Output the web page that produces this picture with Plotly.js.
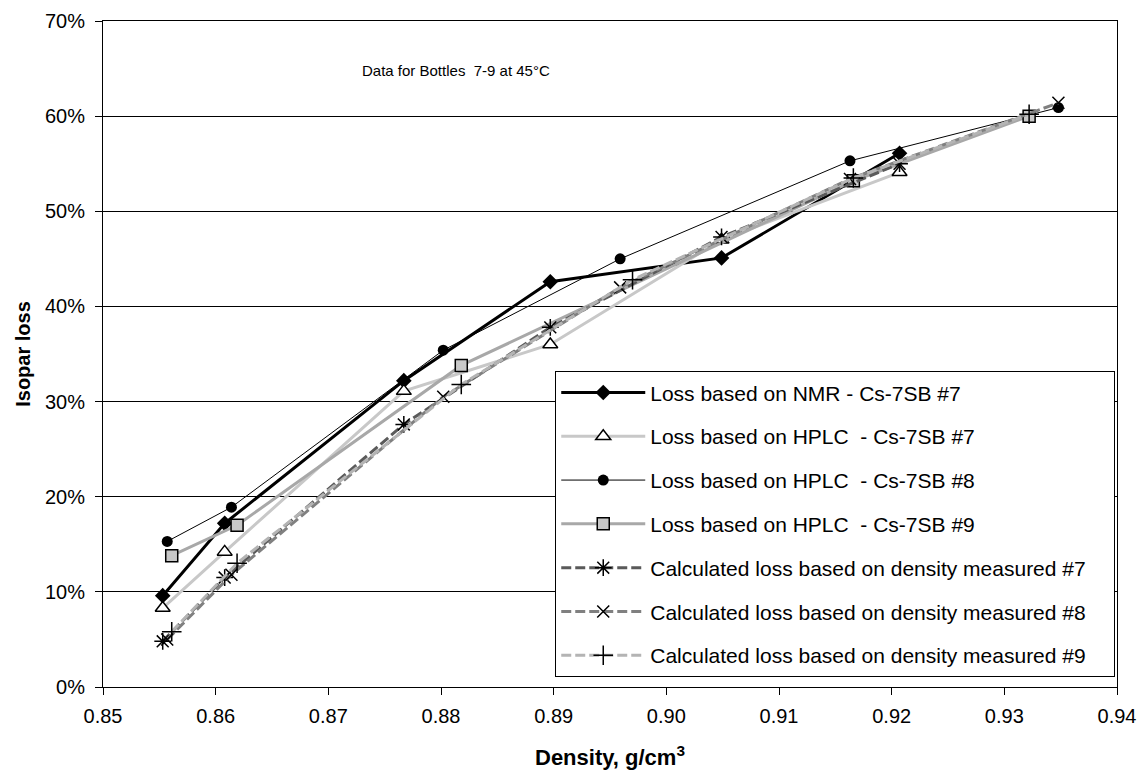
<!DOCTYPE html>
<html>
<head>
<meta charset="utf-8">
<script src="https://cdn.plot.ly/plotly-3.0.1.min.js"></script>
<style>html,body{margin:0;padding:0;background:#fff}#chart{width:1140px;height:770px}</style>
</head>
<body>
<div id="chart"></div>
<script>
// Densities (g/cm3) for each bottle
const density7 = [0.8553, 0.8608, 0.8767, 0.8897, 0.9049, 0.9207];
const density8 = [0.8557, 0.8614, 0.8802, 0.8959, 0.9163, 0.9348];
const density9 = [0.8561, 0.8619, 0.8818, 0.9166, 0.9322];
const density9calc = [0.8561, 0.8619, 0.8818, 0.8970, 0.9166, 0.9322];

// Isopar loss (%)
const nmr7 = [9.6, 17.2, 32.2, 42.6, 45.1, 56.1];
const hplc7 = [8.3, 14.2, 31.1, 36.0, 47.0, 54.1];
const hplc8 = [15.3, 18.9, 35.4, 45.0, 55.3, 60.9];
const hplc9 = [13.8, 17.0, 33.8, 53.2, 60.0];
const calc7 = [4.8, 11.5, 27.6, 37.8, 47.3, 55.0];
const calc8 = [5.0, 11.8, 30.5, 42.0, 53.4, 61.4];
const calc9 = [5.8, 13.0, 31.8, 42.8, 53.5, 60.2];

const seriesNames = [
  'Loss based on NMR - Cs-7SB #7',
  'Loss based on HPLC\u00a0 - Cs-7SB #7',
  'Loss based on HPLC\u00a0 - Cs-7SB #8',
  'Loss based on HPLC\u00a0 - Cs-7SB #9',
  'Calculated loss based on density measured #7',
  'Calculated loss based on density measured #8',
  'Calculated loss based on density measured #9\u00a0\u00a0\u00a0\u00a0'
];
const xTickVals = [0.85, 0.86, 0.87, 0.88, 0.89, 0.90, 0.91, 0.92, 0.93, 0.94];
const xTickText = ['0.85', '0.86', '0.87', '0.88', '0.89', '0.90', '0.91', '0.92', '0.93', '0.94'];
const yTickVals = [0, 10, 20, 30, 40, 50, 60, 70];
const yTickText = ['0%', '10%', '20%', '30%', '40%', '50%', '60%', '70%'];

const traces = [
  {x: density7, y: nmr7, name: seriesNames[0], legendgroup: 'g1', mode: 'lines+markers',
   line: {color: '#000000', width: 3},
   marker: {symbol: 'diamond', size: 12, color: '#000000'}},
  {x: density7, y: hplc7, name: seriesNames[1], legendgroup: 'g2', mode: 'lines+markers',
   line: {color: '#c8c8c8', width: 3},
   marker: {symbol: 'triangle-up', size: 13, color: '#ffffff', line: {color: '#000000', width: 1.5}}},
  {x: density8, y: hplc8, name: seriesNames[2], legendgroup: 'g3', mode: 'lines+markers',
   line: {color: '#000000', width: 1},
   marker: {symbol: 'circle', size: 11, color: '#000000'}},
  {x: density9, y: hplc9, name: seriesNames[3], legendgroup: 'g4', mode: 'lines+markers',
   line: {color: '#a8a8a8', width: 3},
   marker: {symbol: 'square', size: 12, color: '#c8c8c8', line: {color: '#000000', width: 1.5}}},
  {x: density7, y: calc7, name: seriesNames[4], legendgroup: 'g5', mode: 'lines+markers',
   line: {color: '#5a5a5a', width: 3, dash: '10px,4px'},
   marker: {symbol: 'asterisk-open', size: 14, color: '#000000', line: {color: '#000000', width: 1.5}}},
  {x: density8, y: calc8, name: seriesNames[5], legendgroup: 'g6', mode: 'lines+markers',
   line: {color: '#808080', width: 3, dash: '10px,4px'},
   marker: {symbol: 'x-thin-open', size: 12, color: '#000000', line: {color: '#000000', width: 1.5}}},
  {x: density9calc, y: calc9, name: seriesNames[6], legendgroup: 'g7', mode: 'lines+markers',
   line: {color: '#b4b4b4', width: 3, dash: '10px,4px'},
   marker: {symbol: 'cross-thin-open', size: 14, color: '#000000', line: {color: '#000000', width: 1.5}}}
];

const layout = {
  width: 1140, height: 770,
  paper_bgcolor: '#ffffff', plot_bgcolor: '#ffffff',
  font: {family: 'Liberation Sans, Arial, sans-serif', size: 20, color: '#000000'},
  margin: {l: 103, r: 23, t: 21, b: 83, pad: 0},
  showlegend: true,
  xaxis: {
    range: [0.85, 0.94], tickvals: xTickVals, ticktext: xTickText,
    ticks: 'outside', ticklen: 7, tickcolor: '#000', tickwidth: 1,
    showline: true, linecolor: '#000', linewidth: 1, mirror: true,
    showgrid: false, zeroline: false, ticklabelstandoff: 4,
    tickfont: {size: 20},
    title: {text: '<b>Density, g/cm<sup>3</sup></b>', font: {size: 22}, standoff: 24}
  },
  yaxis: {
    range: [0, 70], tickvals: yTickVals, ticktext: yTickText,
    ticks: 'outside', ticklen: 7, tickcolor: '#000', tickwidth: 1,
    showline: true, linecolor: '#000', linewidth: 1, mirror: true,
    showgrid: true, gridcolor: '#000', gridwidth: 1, zeroline: false,
    ticklabelstandoff: 6,
    tickfont: {size: 20},
    title: {text: '<b>Isopar loss</b>', font: {size: 20}, standoff: 8}
  },
  legend: {
    x: 0.446, y: 0.474, xanchor: 'left', yanchor: 'top',
    bgcolor: '#ffffff', bordercolor: '#000', borderwidth: 1,
    font: {size: 21}, itemwidth: 84, tracegroupgap: 13.5,
    traceorder: 'grouped'
  },
  annotations: [{
    x: 0.8813, y: 64.8, xref: 'x', yref: 'y', showarrow: false,
    text: 'Data for Bottles\u00a0 7-9 at 45°C', font: {size: 15}
  }]
};

Plotly.newPlot('chart', traces, layout, {displayModeBar: false, staticPlot: true});
</script>
</body>
</html>
